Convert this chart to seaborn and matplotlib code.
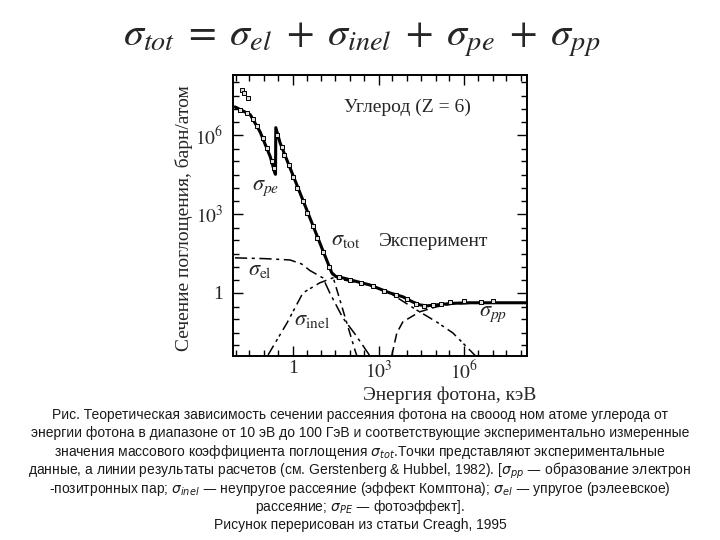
#!/usr/bin/env python3

import numpy as np
import pandas as pd
import matplotlib
matplotlib.use('Agg')
import matplotlib.pyplot as plt
import matplotlib.ticker as mticker
import seaborn as sns

# Photon energy (keV) and cross section (barn/atom)
pe_energy = [0.0093, 0.032, 0.071, 0.16, 0.234, 0.245, 0.251, 0.355, 2.0, 10, 22.9, 148, 174]
pe_sigma = [1.17e7, 5.9e6, 1.3e6, 1.5e5, 3.5e4, 3.2e4, 1.9e6, 5.0e5, 4.5e3, 55, 5.8, 6.8e-3, 4.0e-3]

tot_energy = [0.0093, 0.032, 0.071, 0.16, 0.234, 0.245, 0.251, 0.355, 2.0, 10, 22.9, 31.6, 56,
              490, 2450, 7080, 1.58e4, 2.75e4, 4.8e4, 1.07e5, 4.0e5, 1.58e6, 1.58e8]
tot_sigma = [1.17e7, 5.9e6, 1.3e6, 1.5e5, 3.5e4, 3.2e4, 1.9e6, 5.0e5, 4.5e3, 55, 5.8, 4.2, 3.7,
             2.0, 1.0, 0.71, 0.45, 0.35, 0.32, 0.35, 0.40, 0.42, 0.42]

el_energy = [0.0093, 0.1, 0.79, 2.0, 3.9, 11.2, 19.5, 56, 158, 500]
el_sigma = [21.4, 20, 17.8, 12.6, 7.1, 3.7, 1.0, 0.112, 0.025, 0.004]

inel_energy = [0.135, 0.62, 2.24, 8.7, 25, 490, 2450, 2.2e4, 1.07e5, 4.0e5, 1.55e6, 2.5e6]
inel_sigma = [0.0044, 0.072, 1.0, 2.4, 3.7, 2.0, 1.0, 0.22, 0.079, 0.030, 0.0068, 0.004]

pp_energy = [2880, 4370, 7080, 2.75e4, 1.07e5, 4.0e5, 6.0e6, 1.58e8]
pp_sigma = [0.004, 0.030, 0.079, 0.19, 0.295, 0.38, 0.42, 0.42]

# experimental points (Эксперимент)
exp_energy = [0.0162, 0.020, 0.027, 0.0141, 0.025, 0.040, 0.056, 0.089, 0.126, 0.178, 0.209,
              0.28, 0.40, 0.50, 0.71, 1.0, 1.41, 2.24, 3.16, 5.0, 7.1, 11.2, 17.8, 40, 100,
              250, 630, 1580, 4000, 1.0e4, 2.0e4, 4.0e4, 7.9e4, 1.58e5, 3.2e5, 1.0e6, 4.0e6, 1.0e7]
exp_sigma = [5.2e7, 4.0e7, 2.6e7, 8.9e6, 7.1e6, 4.0e6, 2.2e6, 7.9e5, 3.2e5, 1.0e5, 5.6e4,
             1.0e6, 3.5e5, 1.8e5, 7.1e4, 2.5e4, 1.0e4, 3.2e3, 1.1e3, 355, 126, 35, 10, 4.0, 3.2,
             2.4, 1.8, 1.2, 0.83, 0.56, 0.38, 0.32, 0.35, 0.38, 0.44, 0.47, 0.45, 0.47]

x_ticks = [1, 1e3, 1e6]
x_ticklabels = ['1', '$10^3$', '$10^6$']
y_ticks = [1, 1e3, 1e6]
y_ticklabels = ['1', '$10^3$', '$10^6$']

caption_lines = [
    'Рис. Теоретическая зависимость сечении рассеяния фотона на свооод ном атоме углерода от',
    'энергии фотона в диапазоне от 10 эВ до 100 ГэВ и соответствующие экспериментально измеренные',
    'значения массового коэффициента поглощения $\\sigma_{tot}$.Точки представляют экспериментальные',
    'данные, а линии результаты расчетов (см. Gerstenberg & Hubbel, 1982). [$\\sigma_{pp}$ — образование электрон',
    '-позитронных пар; $\\sigma_{inel}$ — неупругое рассеяние (эффект Комптона); $\\sigma_{el}$ — упругое (рэлеевское)',
    'рассеяние; $\\sigma_{PE}$ — фотоэффект].',
    'Рисунок перерисован из статьи Creagh, 1995',
]

sns.set_style('ticks')
plt.rcParams['font.family'] = ['Liberation Serif', 'DejaVu Serif']
plt.rcParams['mathtext.fontset'] = 'stix'

W, H = 720, 540
fig = plt.figure(figsize=(7.2, 5.4), dpi=100)
ax = fig.add_axes([233 / W, 1 - 356 / H, (527 - 233) / W, (356 - 75) / H])


def curve(energy, sigma, **kw):
    df = pd.DataFrame({'E': energy, 's': sigma})
    sns.lineplot(data=df, x='E', y='s', ax=ax, sort=False, estimator=None,
                 color='black', legend=False, **kw)


curve(pe_energy, pe_sigma, lw=1.1, dashes=(6, 3, 2, 3))
curve(el_energy, el_sigma, lw=1.1, dashes=(8, 3, 2, 3))
curve(inel_energy, inel_sigma, lw=1.1, dashes=(7, 3, 2, 2, 2, 3))
curve(pp_energy, pp_sigma, lw=1.1, dashes=(6, 3))
curve(tot_energy, tot_sigma, lw=2.2)
sns.scatterplot(x=exp_energy, y=exp_sigma, ax=ax, marker='s', s=6,
                facecolor='#dddddd', edgecolor='black', linewidth=0.7, zorder=5)

ax.set_xscale('log')
ax.set_yscale('log')
ax.set_xlim(10 ** -2.1, 10 ** 8.2)
ax.set_ylim(10 ** -2.4, 10 ** 8.28)
ax.xaxis.set_major_locator(mticker.FixedLocator(x_ticks))
ax.xaxis.set_major_formatter(mticker.FixedFormatter(x_ticklabels))
ax.yaxis.set_major_locator(mticker.FixedLocator(y_ticks))
ax.yaxis.set_major_formatter(mticker.FixedFormatter(y_ticklabels))
ax.xaxis.set_minor_locator(mticker.LogLocator(base=10, subs=(1.0, 3.0), numticks=40))
ax.yaxis.set_minor_locator(mticker.LogLocator(base=10, subs=(1.0, 3.0), numticks=40))
ax.xaxis.set_minor_formatter(mticker.NullFormatter())
ax.yaxis.set_minor_formatter(mticker.NullFormatter())
ax.tick_params(which='both', direction='in', top=True, right=True, width=1.0, color='black')
ax.tick_params(which='major', length=7, labelsize=14)
ax.tick_params(axis='x', which='major', pad=3)
ax.tick_params(axis='y', which='major', pad=7)
ax.tick_params(which='minor', length=4)
for sp in ax.spines.values():
    sp.set_linewidth(1.4)
    sp.set_color('black')
ax.set_xlabel('')
ax.set_ylabel('')


def ftext(x, y, s, **kw):
    fig.text(x / W, 1 - y / H, s, ha='center', va='center', **kw)


# chart labels
ftext(407, 107, 'Углерод (Z = 6)', fontsize=14)
ftext(434, 242, 'Эксперимент', fontsize=14)
ftext(266, 188, r'$\sigma_{pe}$', fontsize=16)
ftext(346, 241, r'$\sigma_{\mathrm{tot}}$', fontsize=16)
ftext(260, 271, r'$\sigma_{\mathrm{el}}$', fontsize=16)
ftext(312, 320, r'$\sigma_{\mathrm{inel}}$', fontsize=16)
ftext(493, 314, r'$\sigma_{pp}$', fontsize=16)
ftext(450, 395, 'Энергия фотона, кэВ', fontsize=14)
ftext(184, 218, 'Сечение поглощения, барн/атом', fontsize=14, rotation=90)

# formula on top
ftext(362, 40, r'$\sigma_{tot}\;=\;\sigma_{el}\;+\;\sigma_{inel}\;+\;\sigma_{pe}\;+\;\sigma_{pp}$',
      fontsize=29)

# caption
caption_y = [415, 433, 452, 471, 489, 507, 525]
for yy, line in zip(caption_y, caption_lines):
    ftext(360, yy, line, fontsize=10, color='#1a1a1a',
          family=['Liberation Sans', 'DejaVu Sans'], math_fontfamily='dejavusans')

fig.savefig('out.png', dpi=100)
